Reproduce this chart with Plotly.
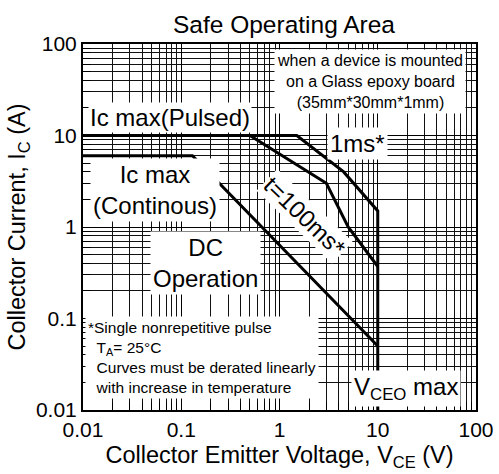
import plotly.graph_objects as go

# ---- data ----
pulse_1ms_v = [0.01, 1.5, 4.5, 10, 10]
pulse_1ms_i = [10, 10, 4, 1.5, 0.01]
pulse_100ms_v = [0.5, 3, 5, 10]
pulse_100ms_i = [10, 3, 1, 0.37]
dc_v = [0.01, 0.13, 10]
dc_i = [6, 6, 0.05]
tick_vals = [0.01, 0.1, 1, 10, 100]
tick_text = ["0.01", "0.1", "1", "10", "100"]

W, H = 499, 474
L, R, T, B = 83, 23, 44, 64
PW, PH = W - L - R, H - T - B


def px(x):
    return (x - L) / PW


def py(y):
    return (H - B - y) / PH


FONT = "Liberation Sans, Arial, sans-serif"
line_style = dict(color="black", width=3)

fig = go.Figure()
for xs, ys in [(pulse_1ms_v, pulse_1ms_i), (pulse_100ms_v, pulse_100ms_i), (dc_v, dc_i)]:
    fig.add_trace(go.Scatter(x=xs, y=ys, mode="lines", line=line_style,
                             showlegend=False, hoverinfo="skip"))

axis_common = dict(
    type="log", range=[-2, 2], showline=True, linewidth=2, linecolor="black",
    mirror=True, ticks="inside", ticklen=8, tickwidth=1, tickcolor="black",
    showgrid=True, gridcolor="black", gridwidth=1, zeroline=False,
    tickvals=tick_vals, ticktext=tick_text,
    tickfont=dict(family=FONT, size=21, color="black"),
    minor=dict(dtick="D1", ticks="inside", ticklen=8, tickcolor="black",
               showgrid=True, gridcolor="#111", gridwidth=1),
    automargin=False,
)

fig.update_xaxes(**axis_common,
                 title=dict(text="Collector Emitter Voltage, V<sub>CE</sub> (V)",
                            font=dict(family=FONT, size=23.5, color="black"), standoff=6))
fig.update_yaxes(**axis_common,
                 title=dict(text="Collector Current, I<sub>C</sub> (A)",
                            font=dict(family=FONT, size=23.5, color="black"), standoff=4))

big = dict(family=FONT, size=24, color="black")
small = dict(family=FONT, size=15.5, color="black")


def ann(text, x, y, font, **kw):
    d = dict(text=text, x=px(x), y=py(y), xref="paper", yref="paper",
             xanchor="center", yanchor="middle",
             showarrow=False, font=font, bgcolor="white", borderpad=2)
    d.update(kw)
    fig.add_annotation(**d)


ann("when a device is mounted<br>on a Glass epoxy board<br>(35mm*30mm*1mm)", 370, 81, dict(family=FONT, size=16, color="black"))
ann("Ic max(Pulsed)", 170, 117, big, borderpad=1)
ann("1ms*", 357, 143, big)
ann("Ic max<br>(Continous)", 155, 190, big)
ann("DC<br>Operation", 205, 263, big)
ann("t=100ms*", 305, 216, big, textangle=44, borderpad=1)
ann("*Single nonrepetitive pulse<br>\u00a0\u00a0T<sub>A</sub>= 25°C<br>\u00a0\u00a0Curves must be derated linearly<br>\u00a0\u00a0with increase in temperature",
    85, 357, small, xanchor="left", align="left")
ann("V<sub>CEO</sub> max", 406, 388, big)

fig.update_layout(
    width=W, height=H,
    margin=dict(l=L, r=R, t=T, b=B),
    paper_bgcolor="white", plot_bgcolor="white",
    title=dict(text="Safe Operating Area", x=(284) / W, xanchor="center",
               y=1 - 24 / H, yanchor="middle", xref="container", yref="container",
               font=dict(family=FONT, size=24.5, color="black")),
    font=dict(family=FONT, color="black"),
)

fig.write_html("out.html", config={"displayModeBar": False},
               post_script="document.body.style.margin='0';document.body.style.padding='0';")
